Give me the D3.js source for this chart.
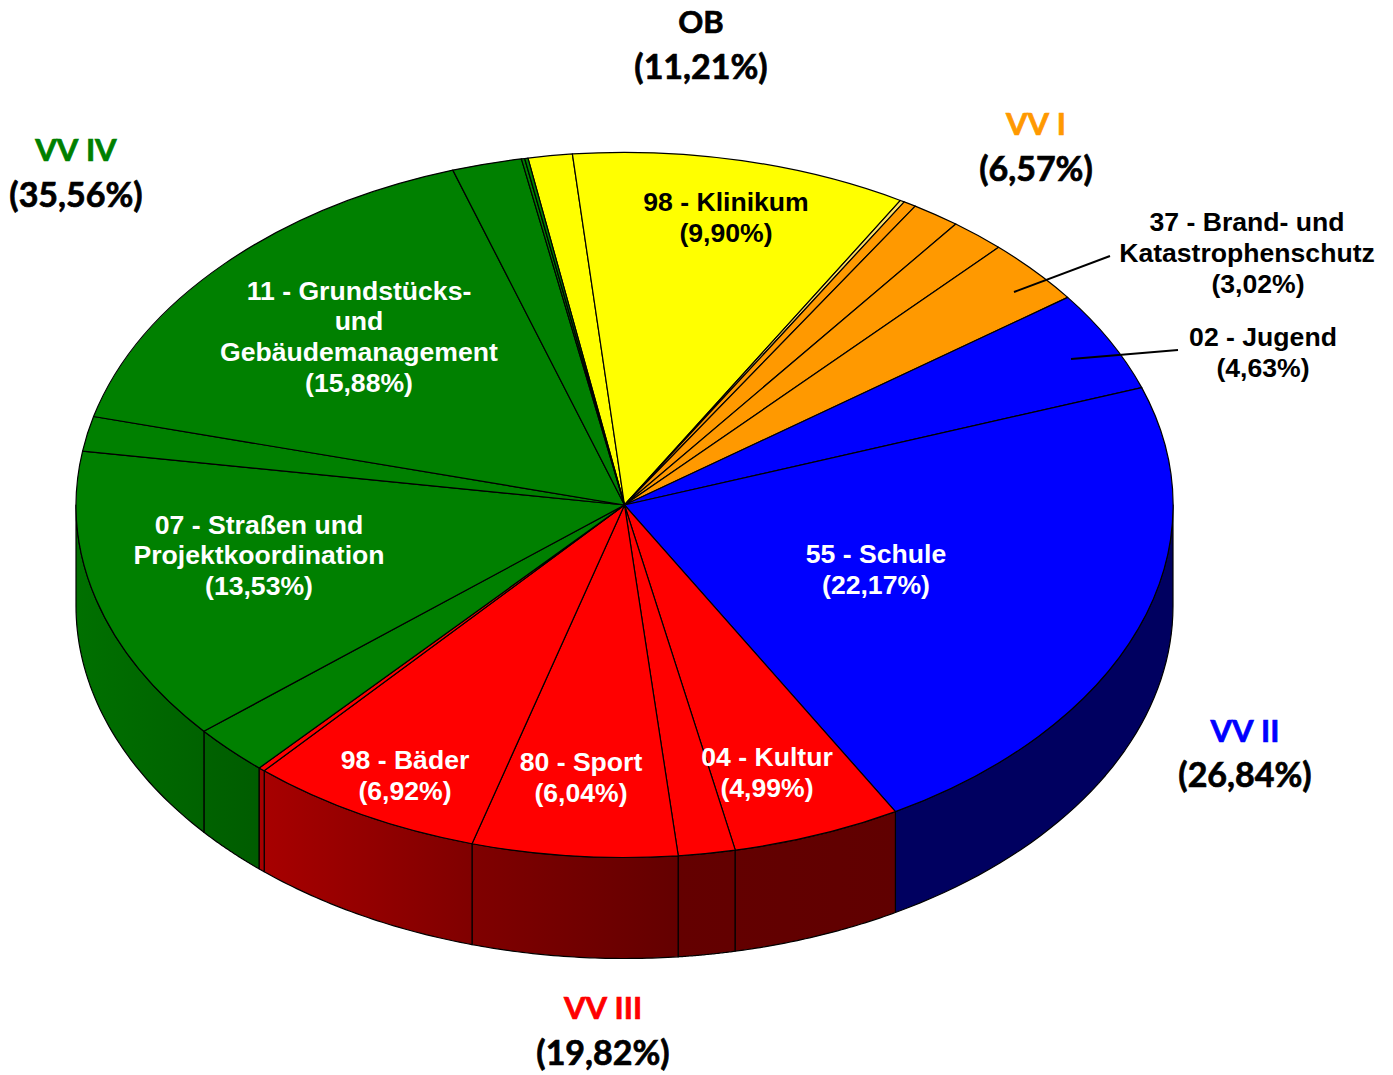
<!DOCTYPE html>
<html>
<head>
<meta charset="utf-8">
<script src="https://cdn.jsdelivr.net/npm/d3@7"></script>
<style>
  html, body { margin: 0; padding: 0; background: #fff; }
  svg { display: block; }
</style>
</head>
<body>
<svg id="chart"></svg>
<script>
// Shares in percent, clockwise from the left edge of the yellow group
const sliceValues = [
  1.31, 9.90,
  0.12, 0.38, 1.42, 1.63, 3.02,
  4.63, 22.17,
  4.99, 1.67, 6.04, 6.92, 0.20,
  2.30, 13.53, 1.60, 15.88, 2.06, 0.10, 0.09,
];
const sliceGroups = [
  "OB", "OB",
  "VV I", "VV I", "VV I", "VV I", "VV I",
  "VV II", "VV II",
  "VV III", "VV III", "VV III", "VV III", "VV III",
  "VV IV", "VV IV", "VV IV", "VV IV", "VV IV", "VV IV", "VV IV",
];
const groupNames = ["OB", "VV I", "VV II", "VV III", "VV IV"];
const groupShares = ["(11,21%)", "(6,57%)", "(26,84%)", "(19,82%)", "(35,56%)"];
const sliceLabels = [
  ["98 - Klinikum", "(9,90%)"],
  ["37 - Brand- und", "Katastrophenschutz", "(3,02%)"],
  ["02 - Jugend", "(4,63%)"],
  ["55 - Schule", "(22,17%)"],
  ["04 - Kultur", "(4,99%)"],
  ["80 - Sport", "(6,04%)"],
  ["98 - Bäder", "(6,92%)"],
  ["07 - Straßen und", "Projektkoordination", "(13,53%)"],
  ["11 - Grundstücks-", "und", "Gebäudemanagement", "(15,88%)"],
];

const W = 1393, H = 1075;
const CX = 624.5, CY = 505, RX = 548.5, RY = 352.5, DEPTH = 101;
const START = (-10.15 * Math.PI) / 180;

const TOP_COLORS = {
  OB: "#ffff00", "VV I": "#ff9900", "VV II": "#0000ff", "VV III": "#ff0000", "VV IV": "#008000",
};
const NAME_COLORS = {
  OB: "#000", "VV I": "#ff9900", "VV II": "#0000ff", "VV III": "#ff0000", "VV IV": "#008000",
};
// the thinnest VV I sliver reads pale yellow in the original
const SLIVER_INDEX = 2, SLIVER_FILL = "#ffe066";
// wall shading runs left to right across the picture
const WALL_SHADES = {
  "VV II": [[894, "#000060"], [1173, "#000060"]],
  "VV III": [[258, "#a80000"], [470, "#800000"], [677, "#640000"], [894, "#600000"]],
  "VV IV": [[76, "#007000"], [204, "#006200"], [262, "#005c00"]],
};

const GROUP_POS = {
  OB: [701, 33, 79], "VV I": [1036, 135, 181], "VV II": [1245, 742, 787],
  "VV III": [603, 1019, 1065], "VV IV": [76, 161, 207],
};
// one [x, baseline] per line of each label in sliceLabels
const LABEL_POS = [
  [[726, 211], [726, 242]],
  [[1247, 231], [1247, 262], [1258, 293]],
  [[1263, 346], [1263, 377]],
  [[876, 563], [876, 594]],
  [[767, 766], [767, 797]],
  [[581, 771], [581, 802]],
  [[405, 769], [405, 800]],
  [[259, 534], [259, 564], [259, 595]],
  [[359, 300], [359, 330], [359, 361], [359, 392]],
];

const svg = d3.select("#chart").attr("width", W).attr("height", H);
svg.append("rect").attr("width", W).attr("height", H).attr("fill", "#fff");

const x = d3.scaleLinear().domain([-1, 1]).range([CX - RX, CX + RX]);
const y = d3.scaleLinear().domain([-1, 1]).range([CY - RY, CY + RY]);

const pie = d3.pie().sort(null).value((d) => d)
  .startAngle(START).endAngle(START + 2 * Math.PI);
const arcs = pie(sliceValues);

// gradients for the wall
const defs = svg.append("defs");
Object.entries(WALL_SHADES).forEach(([name, stops], i) => {
  const x0 = stops[0][0], x1 = stops[stops.length - 1][0];
  const grad = defs.append("linearGradient")
    .attr("id", "wall" + i)
    .attr("gradientUnits", "userSpaceOnUse")
    .attr("x1", x0).attr("x2", x1).attr("y1", 0).attr("y2", 0);
  stops.forEach((s) => {
    grad.append("stop").attr("offset", (s[0] - x0) / (x1 - x0)).attr("stop-color", s[1]);
  });
  WALL_SHADES[name].id = "wall" + i;
});

// Walls: only the part of the rim facing the viewer (90 to 270 degrees)
const line = d3.line();
const rim = (a, dy) => [x(Math.sin(a)), y(-Math.cos(a)) + dy];
const wall = svg.append("g");
arcs.forEach((d, i) => {
  const norm = (a) => (a < 0 ? a + 2 * Math.PI : a);
  let a0 = norm(d.startAngle), a1 = a0 + (d.endAngle - d.startAngle);
  a0 = Math.max(a0, Math.PI / 2);
  a1 = Math.min(a1, (3 * Math.PI) / 2);
  if (a1 <= a0) return;
  const steps = d3.range(0, 41).map((k) => a0 + ((a1 - a0) * k) / 40);
  const pts = steps.map((a) => rim(a, 0)).concat(steps.slice().reverse().map((a) => rim(a, DEPTH)));
  wall.append("path")
    .attr("d", line(pts) + "Z")
    .attr("fill", `url(#${WALL_SHADES[sliceGroups[i]].id})`)
    .attr("stroke", "#000")
    .attr("stroke-width", 1.2)
    .attr("stroke-linejoin", "round");
});

// Top face
const arc = d3.arc().innerRadius(0).outerRadius(1);
svg.append("g")
  .attr("transform", `translate(${CX},${CY}) scale(${RX},${RY})`)
  .selectAll("path")
  .data(arcs)
  .join("path")
  .attr("d", arc)
  .attr("fill", (d, i) => (i === SLIVER_INDEX ? SLIVER_FILL : TOP_COLORS[sliceGroups[i]]))
  .attr("stroke", "#000")
  .attr("stroke-width", 1.2)
  .attr("stroke-linejoin", "round")
  .attr("vector-effect", "non-scaling-stroke");

// Leader lines
[[1014, 292, 1110, 256], [1071, 359, 1178, 350]].forEach((l) => {
  svg.append("line")
    .attr("x1", l[0]).attr("y1", l[1]).attr("x2", l[2]).attr("y2", l[3])
    .attr("stroke", "#000").attr("stroke-width", 2);
});

// Slice labels: white on the pie, black outside it
sliceLabels.forEach((lines, i) => {
  const outside = i === 1 || i === 2;
  const isDark = i === 0 || outside;
  lines.forEach((txt, j) => {
    svg.append("text")
      .attr("x", LABEL_POS[i][j][0])
      .attr("y", LABEL_POS[i][j][1])
      .attr("text-anchor", "middle")
      .attr("font-family", "'Liberation Sans', Arial, sans-serif")
      .attr("font-weight", 700)
      .attr("font-size", 26.6)
      .attr("fill", isDark ? "#000" : "#fff")
      .text(txt);
  });
});

// Group labels
groupNames.forEach((name, i) => {
  const p = GROUP_POS[name];
  [[name, p[1], NAME_COLORS[name], 31], [groupShares[i], p[2], "#000", 34]].forEach((t) => {
    svg.append("text")
      .attr("x", p[0])
      .attr("y", t[1])
      .attr("text-anchor", "middle")
      .attr("font-family", "Lato, 'Open Sans', sans-serif")
      .attr("font-weight", 700)
      .attr("font-size", t[3])
      .attr("fill", t[2])
      .attr("stroke", t[2])
      .attr("stroke-width", 0.7)
      .style("font-kerning", "none")
      .text(t[0]);
  });
});
</script>
</body>
</html>
